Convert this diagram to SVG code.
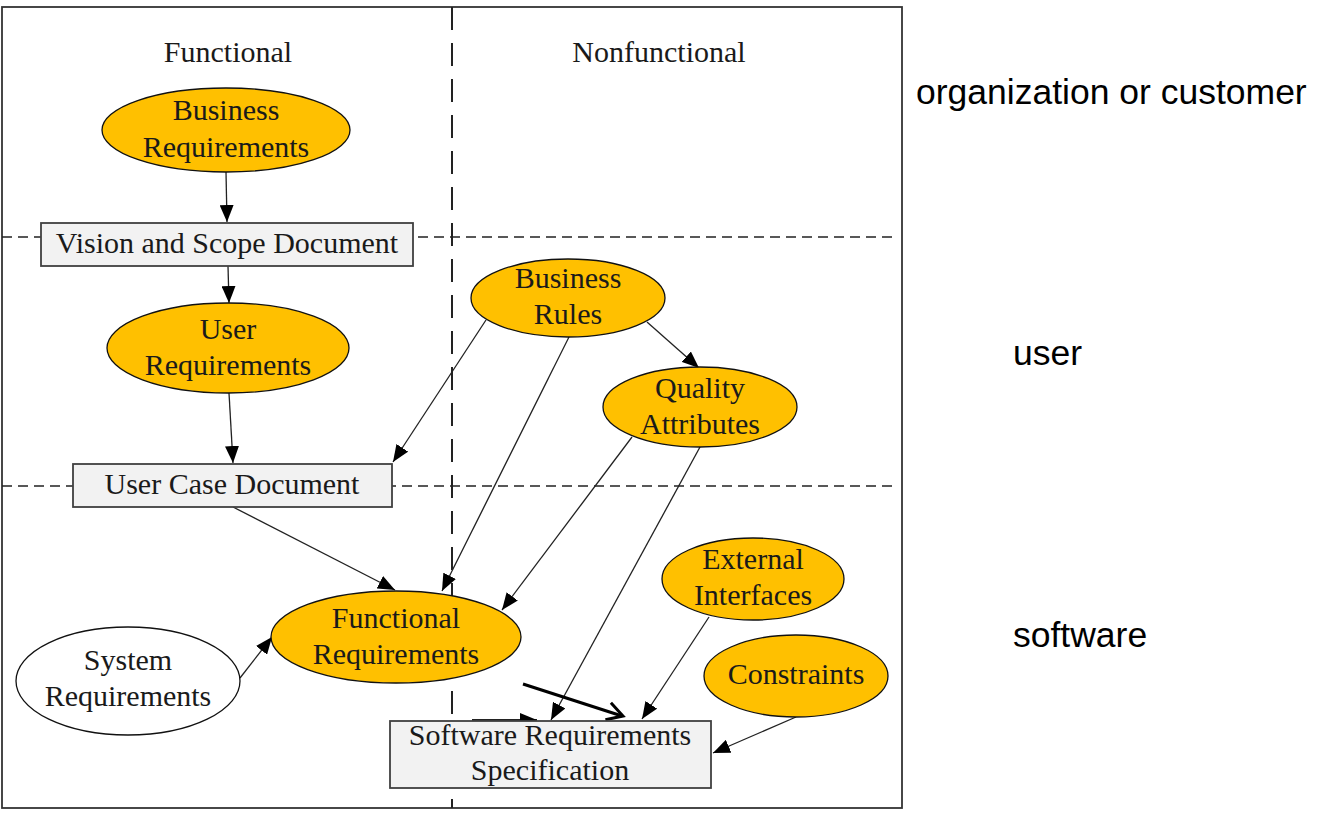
<svg xmlns="http://www.w3.org/2000/svg" width="1317" height="813" viewBox="0 0 1317 813">
<style>
.t{font-family:"Liberation Serif","Times New Roman",serif;font-size:30px;fill:#1a1a1a;text-anchor:middle}
.lbl{font-family:"Liberation Sans",Arial,sans-serif;font-size:35.5px;fill:#000}
.el{fill:#FFC000;stroke:#111;stroke-width:1.3}
.wel{fill:#fff;stroke:#111;stroke-width:1.3}
.box{fill:#F2F2F2;stroke:#404040;stroke-width:1.8}
.c{stroke:#222;stroke-width:1.3;fill:none;marker-end:url(#ah)}
.vd{stroke:#222;stroke-width:2;stroke-dasharray:23 13;fill:none}
.hd{stroke:#222;stroke-width:1.3;stroke-dasharray:10 6;fill:none}
</style>
<defs>
<marker id="ah" markerUnits="userSpaceOnUse" markerWidth="18" markerHeight="14" refX="17" refY="7" orient="auto">
<path d="M0,0 L17,7 L0,14 z" fill="#000"/>
</marker>
</defs>
<rect width="1317" height="813" fill="#fff"/>
<g id="frame">
<rect x="2" y="7" width="900" height="801" fill="none" stroke="#333" stroke-width="1.8"/>
<line class="vd" x1="452" y1="7" x2="452" y2="808"/>
<line class="hd" x1="2" y1="237" x2="892" y2="237"/>
<line class="hd" x1="2" y1="486" x2="892" y2="486"/>
<text class="t" x="228" y="62">Functional</text>
<text class="t" x="659" y="62">Nonfunctional</text>
</g>
<g id="connectors">
<line class="c" x1="226" y1="172" x2="227" y2="222"/>
<line class="c" x1="228" y1="266" x2="229" y2="303"/>
<line class="c" x1="229" y1="393" x2="233" y2="463"/>
<line class="c" x1="486" y1="320" x2="393" y2="462"/>
<line class="c" x1="647" y1="322" x2="699" y2="368"/>
<line class="c" x1="569" y1="337" x2="442" y2="591"/>
<line class="c" x1="632" y1="437" x2="502" y2="610"/>
<line class="c" x1="700" y1="447" x2="551" y2="720"/>
<line class="c" x1="709" y1="617" x2="642" y2="719"/>
<line class="c" x1="796" y1="717" x2="713" y2="753"/>
<line class="c" x1="233" y1="507" x2="395" y2="590"/>
<line class="c" x1="240" y1="678" x2="272" y2="637"/>
<line x1="472" y1="720" x2="537" y2="720" stroke="#222" stroke-width="2.2" marker-end="url(#ah)"/>
<line x1="523" y1="684" x2="622" y2="716" stroke="#000" stroke-width="3"/>
<polyline points="610.9,702.7 623,716 605.4,719.8" fill="none" stroke="#000" stroke-width="3" stroke-linejoin="miter"/>
</g>
<g id="business-requirements">
<ellipse class="el" cx="226" cy="130" rx="124" ry="42"/>
<text class="t" x="226" y="120">Business</text>
<text class="t" x="226" y="157">Requirements</text>
</g>
<g id="vision-scope">
<rect class="box" x="41" y="223" width="372" height="43"/>
<text class="t" x="227" y="253">Vision and Scope Document</text>
</g>
<g id="user-requirements">
<ellipse class="el" cx="228" cy="348" rx="121" ry="45"/>
<text class="t" x="228" y="339">User</text>
<text class="t" x="228" y="375">Requirements</text>
</g>
<g id="user-case-document">
<rect class="box" x="73" y="464" width="319" height="43"/>
<text class="t" x="232" y="494">User Case Document</text>
</g>
<g id="business-rules">
<ellipse class="el" cx="568" cy="298" rx="97" ry="39"/>
<text class="t" x="568" y="288">Business</text>
<text class="t" x="568" y="324">Rules</text>
</g>
<g id="quality-attributes">
<ellipse class="el" cx="700" cy="407" rx="97" ry="40"/>
<text class="t" x="700" y="398">Quality</text>
<text class="t" x="700" y="434">Attributes</text>
</g>
<g id="external-interfaces">
<ellipse class="el" cx="753" cy="579" rx="91" ry="41"/>
<text class="t" x="753" y="569">External</text>
<text class="t" x="753" y="605">Interfaces</text>
</g>
<g id="constraints">
<ellipse class="el" cx="796" cy="676" rx="92" ry="41"/>
<text class="t" x="796" y="684">Constraints</text>
</g>
<g id="functional-requirements">
<ellipse class="el" cx="396" cy="637" rx="125" ry="46"/>
<text class="t" x="396" y="628">Functional</text>
<text class="t" x="396" y="664">Requirements</text>
</g>
<g id="system-requirements">
<ellipse class="wel" cx="128" cy="681" rx="112" ry="54"/>
<text class="t" x="128" y="670">System</text>
<text class="t" x="128" y="706">Requirements</text>
</g>
<g id="srs">
<rect class="box" x="390" y="721" width="321" height="67"/>
<text class="t" x="550" y="745">Software Requirements</text>
<text class="t" x="550" y="780">Specification</text>
</g>
<g id="levels">
<text class="lbl" x="916" y="104">organization or customer</text>
<text class="lbl" x="1013" y="365">user</text>
<text class="lbl" x="1013" y="647">software</text>
</g>
</svg>
